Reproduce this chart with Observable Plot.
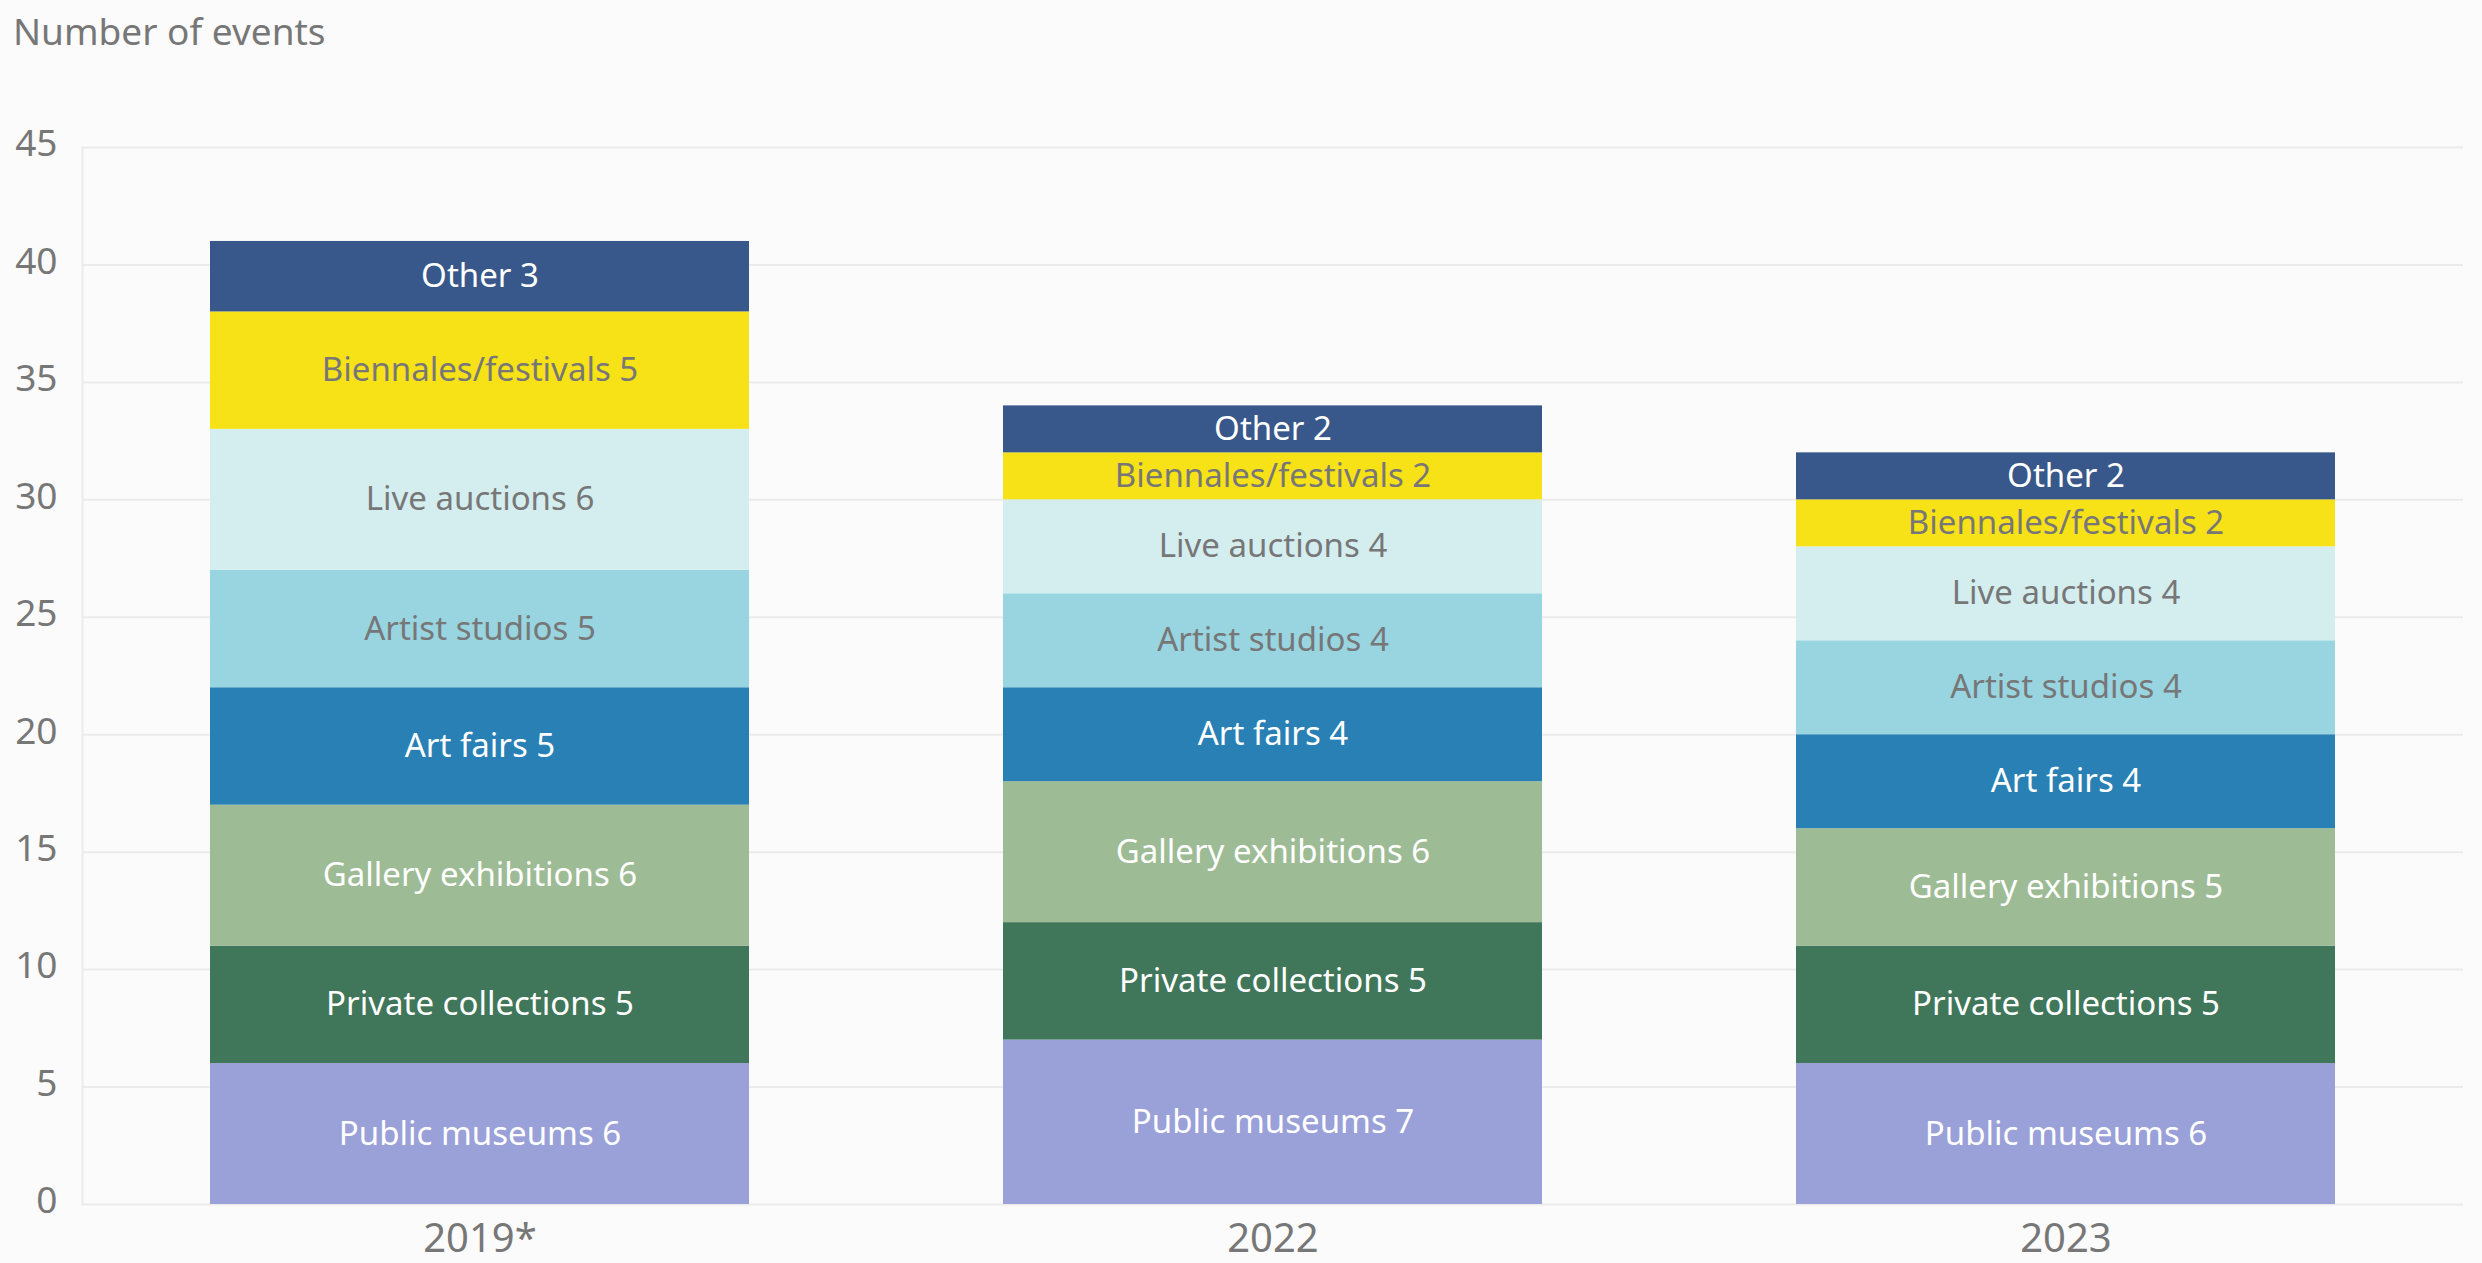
<!DOCTYPE html>
<html><head><meta charset="utf-8">
<script src="https://cdn.jsdelivr.net/npm/d3@7"></script>
<script src="https://cdn.jsdelivr.net/npm/@observablehq/plot@0.6"></script>
<style>
html,body{margin:0;padding:0;background:#fbfbfb;font-family:"Noto Sans",sans-serif;}
#title{height:70px;box-sizing:border-box;padding-top:12px;padding-left:13px;font-size:37px;line-height:37px;color:#777;}
</style></head><body>
<div id="title">Number of events</div>
<div id="chart"></div>
<script>
const years = ["2019*", "2022", "2023"];
const categories = ["Public museums", "Private collections", "Gallery exhibitions", "Art fairs", "Artist studios", "Live auctions", "Biennales/festivals", "Other"];
const publicMuseums      = [6, 7, 6];
const privateCollections = [5, 5, 5];
const galleryExhibitions = [6, 6, 5];
const artFairs           = [5, 4, 4];
const artistStudios      = [5, 4, 4];
const liveAuctions       = [6, 4, 4];
const biennalesFestivals = [5, 2, 2];
const other              = [3, 2, 2];
const yTicks = [0, 5, 10, 15, 20, 25, 30, 35, 40, 45];

const seriesValues = [publicMuseums, privateCollections, galleryExhibitions, artFairs, artistStudios, liveAuctions, biennalesFestivals, other];
const colors = ["#9aa0d8", "#40765a", "#9dbb95", "#2980b4", "#98d5e1", "#d4eef0", "#f7e217", "#38578a"];
const lightCats = new Set(["Artist studios", "Live auctions", "Biennales/festivals"]);

const data = [];
years.forEach((year, i) => {
  categories.forEach((cat, j) => {
    data.push({year, category: cat, value: seriesValues[j][i]});
  });
});

const W = 2482, H = 1263 - 70;
const chart = Plot.plot({
  width: W,
  height: H,
  marginTop: 77,
  marginBottom: 59,
  marginLeft: 82,
  marginRight: 19,
  style: {background: "#fbfbfb", fontFamily: "'Noto Sans', sans-serif", color: "#777"},
  x: {domain: years, paddingInner: 0.32, paddingOuter: 0.16, label: null},
  y: {domain: [0, 45], ticks: yTicks, label: null},
  color: {domain: categories, range: colors},
  marks: [
    Plot.gridY(yTicks, {stroke: "#ebebeb", strokeOpacity: 1, strokeWidth: 2}),
    Plot.frame({anchor: "left", stroke: "#ebebeb", strokeWidth: 2}),
    Plot.barY(data, {x: "year", y: "value", fill: "category", order: categories}),
    Plot.text(data, Plot.stackY({
      x: "year", y: "value", z: "category", order: categories,
      text: d => lightCats.has(d.category) ? "" : `${d.category} ${d.value}`, fill: "white", fontSize: 33
    })),
    Plot.text(data, Plot.stackY({
      x: "year", y: "value", z: "category", order: categories,
      text: d => lightCats.has(d.category) ? `${d.category} ${d.value}` : "", fill: "#777", fontSize: 33
    })),
    Plot.axisY(yTicks, {tickSize: 0, tickPadding: 25, fontSize: 37, fill: "#777", dy: -3}),
    Plot.axisX({tickSize: 0, tickPadding: 19, fontSize: 40, fill: "#777"})
  ]
});
document.getElementById("chart").appendChild(chart);
</script>
</body></html>
